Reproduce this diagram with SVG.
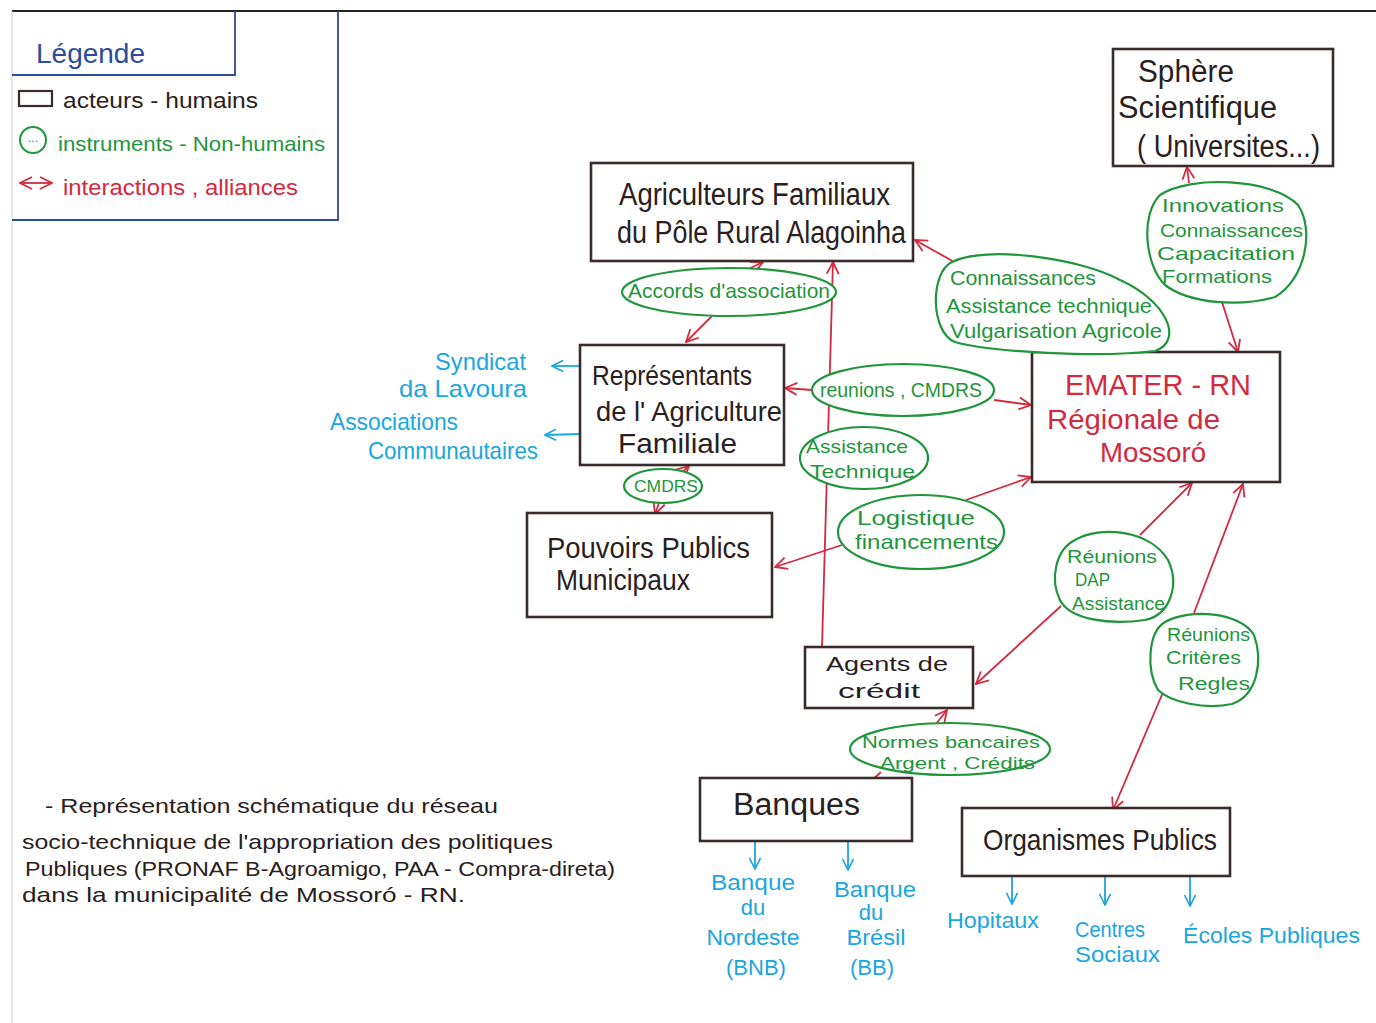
<svg xmlns="http://www.w3.org/2000/svg" width="1376" height="1023" viewBox="0 0 1376 1023">
<defs>
<style>
text{font-family:"Liberation Sans","DejaVu Sans",sans-serif}
.k{fill:#2a2020}
.g{fill:#1f953c}
.r{fill:#d22a3e}
.b{fill:#1aa6df}
.lb{fill:#2b4c9c}
.box{fill:#fff;stroke:#3b2b2a;stroke-width:2.6}
.ell{fill:#fff;stroke:#1f953c;stroke-width:2.2}
.rl{stroke:#d22a3e;stroke-width:1.8;fill:none}
.bl{stroke:#1aa6df;stroke-width:1.8;fill:none}
.leg{stroke:#2b4c9c;stroke-width:1.8;fill:none}
</style>
<marker id="ar" viewBox="0 0 14 14" refX="13" refY="7" markerWidth="14" markerHeight="14" markerUnits="userSpaceOnUse" orient="auto-start-reverse"><path d="M1,1 L13,7 L1,13" fill="none" stroke="#d22a3e" stroke-width="1.8"/></marker>
<marker id="ab" viewBox="0 0 14 14" refX="13" refY="7" markerWidth="13" markerHeight="13" markerUnits="userSpaceOnUse" orient="auto"><path d="M1,1 L13,7 L1,13" fill="none" stroke="#1aa6df" stroke-width="1.8"/></marker>
</defs>
<rect width="1376" height="1023" fill="#fff"/>
<line x1="12" y1="11" x2="1376" y2="11" stroke="#222" stroke-width="2"/>
<line x1="12" y1="11" x2="12" y2="1023" stroke="#ccc" stroke-width="1"/>

<g id="legend">
<path class="leg" d="M235,11 L235,75 L12,75"/>
<path class="leg" d="M338,11 L338,220 L12,220"/>
<text class="lb" x="36" y="63" font-size="28" textLength="109" lengthAdjust="spacingAndGlyphs">Légende</text>
<rect x="19" y="91" width="33" height="15" fill="none" stroke="#3b2b2a" stroke-width="2.2"/>
<text class="k" x="63" y="108" font-size="22" textLength="195" lengthAdjust="spacingAndGlyphs">acteurs - humains</text>
<circle cx="33" cy="140" r="13" fill="none" stroke="#1f953c" stroke-width="2"/>
<text class="g" x="33" y="142" font-size="12" text-anchor="middle">...</text>
<text class="g" x="58" y="151" font-size="21" textLength="267" lengthAdjust="spacingAndGlyphs">instruments - Non-humains</text>
<line x1="20" y1="183" x2="52" y2="183" class="rl" marker-start="url(#ar)" marker-end="url(#ar)"/>
<text class="r" x="63" y="195" font-size="22" textLength="235" lengthAdjust="spacingAndGlyphs">interactions , alliances</text>
</g>

<g id="connectors">
<path class="rl" d="M742,272 L763,262" marker-end="url(#ar)"/>
<path class="rl" d="M712,316 L686,342" marker-end="url(#ar)"/>
<path class="rl" d="M822,647 L833,262" marker-end="url(#ar)"/>
<path class="rl" d="M812,390 L785,388" marker-end="url(#ar)"/>
<path class="rl" d="M994,400 L1031,405" marker-end="url(#ar)"/>
<path class="rl" d="M956,263 L915,240" marker-end="url(#ar)"/>
<path class="rl" d="M1140,346 L1157,353"/>
<path class="rl" d="M1189,183 L1187,167" marker-end="url(#ar)"/>
<path class="rl" d="M1222,302 L1238,352" marker-end="url(#ar)"/>
<path class="rl" d="M966,500 L1031,477" marker-end="url(#ar)"/>
<path class="rl" d="M842,545 L775,567" marker-end="url(#ar)"/>
<path class="rl" d="M678,476 L689,466" marker-end="url(#ar)"/>
<path class="rl" d="M659,503 L655,514" marker-end="url(#ar)"/>
<path class="rl" d="M1140,535 L1192,483" marker-end="url(#ar)"/>
<path class="rl" d="M1061,606 L976,684" marker-end="url(#ar)"/>
<path class="rl" d="M1194,613 L1243,484" marker-end="url(#ar)"/>
<path class="rl" d="M1164,690 L1113,810" marker-end="url(#ar)"/>
<path class="rl" d="M936,724 L947,710" marker-end="url(#ar)"/>
<path class="rl" d="M881,772 L869,783"/>
<path class="bl" d="M580,366 L552,366" marker-end="url(#ab)"/>
<path class="bl" d="M580,434 L545,435" marker-end="url(#ab)"/>
<path class="bl" d="M755,842 L755,869" marker-end="url(#ab)"/>
<path class="bl" d="M848,842 L848,870" marker-end="url(#ab)"/>
<path class="bl" d="M1012,876 L1012,904" marker-end="url(#ab)"/>
<path class="bl" d="M1105,876 L1105,905" marker-end="url(#ab)"/>
<path class="bl" d="M1190,876 L1190,906" marker-end="url(#ab)"/>
</g>

<g id="agriculteurs">
<rect class="box" x="591" y="163" width="322" height="98"/>
<text class="k" x="619" y="205" font-size="31" textLength="271" lengthAdjust="spacingAndGlyphs">Agriculteurs Familiaux</text>
<text class="k" x="617" y="243" font-size="31" textLength="289" lengthAdjust="spacingAndGlyphs">du Pôle Rural Alagoinha</text>
</g>

<g id="sphere">
<rect class="box" x="1113" y="49" width="220" height="117"/>
<text class="k" x="1138" y="82" font-size="31" textLength="96" lengthAdjust="spacingAndGlyphs">Sphère</text>
<text class="k" x="1118" y="118" font-size="31" textLength="159" lengthAdjust="spacingAndGlyphs">Scientifique</text>
<text class="k" x="1137" y="157" font-size="31" textLength="183" lengthAdjust="spacingAndGlyphs">( Universites...)</text>
</g>

<g id="representants">
<rect class="box" x="580" y="345" width="204" height="120"/>
<text class="k" x="592" y="385" font-size="28" textLength="160" lengthAdjust="spacingAndGlyphs">Représentants</text>
<text class="k" x="596" y="421" font-size="28" textLength="186" lengthAdjust="spacingAndGlyphs">de l' Agriculture</text>
<text class="k" x="618" y="453" font-size="28" textLength="119" lengthAdjust="spacingAndGlyphs">Familiale</text>
</g>

<g id="emater">
<rect class="box" x="1032" y="352" width="248" height="130"/>
<text class="r" x="1065" y="395" font-size="30" textLength="186" lengthAdjust="spacingAndGlyphs">EMATER - RN</text>
<text class="r" x="1047" y="429" font-size="27" textLength="173" lengthAdjust="spacingAndGlyphs">Régionale de</text>
<text class="r" x="1100" y="462" font-size="27" textLength="106" lengthAdjust="spacingAndGlyphs">Mossoró</text>
</g>

<g id="pouvoirs">
<rect class="box" x="527" y="513" width="245" height="104"/>
<text class="k" x="547" y="558" font-size="29" textLength="203" lengthAdjust="spacingAndGlyphs">Pouvoirs Publics</text>
<text class="k" x="556" y="590" font-size="29" textLength="134" lengthAdjust="spacingAndGlyphs">Municipaux</text>
</g>

<g id="agents">
<rect class="box" x="805" y="647" width="168" height="61"/>
<text class="k" x="826" y="671" font-size="21" textLength="122" lengthAdjust="spacingAndGlyphs">Agents de</text>
<text class="k" x="838" y="698" font-size="21" textLength="82" lengthAdjust="spacingAndGlyphs">crédit</text>
</g>

<g id="banques">
<rect class="box" x="700" y="778" width="212" height="63"/>
<text class="k" x="733" y="815" font-size="31" textLength="127" lengthAdjust="spacingAndGlyphs">Banques</text>
</g>

<g id="organismes">
<rect class="box" x="962" y="808" width="268" height="68"/>
<text class="k" x="983" y="850" font-size="29" textLength="234" lengthAdjust="spacingAndGlyphs">Organismes Publics</text>
</g>

<g id="accords">
<ellipse class="ell" cx="729" cy="292" rx="107" ry="24"/>
<text class="g" x="628" y="298" font-size="21" textLength="202" lengthAdjust="spacingAndGlyphs">Accords d'association</text>
</g>

<g id="connaissances">
<path class="ell" d="M952,262 C985,245 1080,258 1120,280 C1165,300 1185,340 1155,351 C1100,358 990,352 955,342 C930,332 930,272 952,262 Z"/>
<text class="g" x="950" y="285" font-size="20" textLength="146" lengthAdjust="spacingAndGlyphs">Connaissances</text>
<text class="g" x="946" y="313" font-size="20" textLength="206" lengthAdjust="spacingAndGlyphs">Assistance technique</text>
<text class="g" x="950" y="338" font-size="20" textLength="212" lengthAdjust="spacingAndGlyphs">Vulgarisation Agricole</text>
</g>

<g id="innovations">
<path class="ell" d="M1160,195 C1190,175 1272,178 1298,205 C1315,230 1305,280 1275,297 C1240,307 1190,304 1165,285 C1145,265 1140,215 1160,195 Z"/>
<text class="g" x="1162" y="212" font-size="19" textLength="122" lengthAdjust="spacingAndGlyphs">Innovations</text>
<text class="g" x="1160" y="237" font-size="19" textLength="143" lengthAdjust="spacingAndGlyphs">Connaissances</text>
<text class="g" x="1157" y="260" font-size="19" textLength="138" lengthAdjust="spacingAndGlyphs">Capacitation</text>
<text class="g" x="1162" y="283" font-size="19" textLength="110" lengthAdjust="spacingAndGlyphs">Formations</text>
</g>

<g id="reunions-cmdrs">
<ellipse class="ell" cx="903" cy="390" rx="91" ry="26"/>
<text class="g" x="820" y="397" font-size="20" textLength="162" lengthAdjust="spacingAndGlyphs">reunions , CMDRS</text>
</g>

<g id="assistance-technique">
<ellipse class="ell" cx="864" cy="458" rx="64" ry="31"/>
<text class="g" x="806" y="453" font-size="19" textLength="102" lengthAdjust="spacingAndGlyphs">Assistance</text>
<text class="g" x="810" y="478" font-size="19" textLength="105" lengthAdjust="spacingAndGlyphs">Technique</text>
</g>

<g id="logistique">
<ellipse class="ell" cx="921" cy="532" rx="83" ry="37"/>
<text class="g" x="857" y="525" font-size="21" textLength="118" lengthAdjust="spacingAndGlyphs">Logistique</text>
<text class="g" x="855" y="549" font-size="21" textLength="143" lengthAdjust="spacingAndGlyphs">financements</text>
</g>

<g id="cmdrs">
<ellipse class="ell" cx="663" cy="486" rx="39" ry="17"/>
<text class="g" x="634" y="492" font-size="16" textLength="64" lengthAdjust="spacingAndGlyphs">CMDRS</text>
</g>

<g id="reunions-dap">
<path class="ell" d="M1075,540 C1100,525 1150,530 1168,560 C1180,585 1170,615 1145,620 C1110,625 1070,620 1060,600 C1050,580 1055,550 1075,540 Z"/>
<text class="g" x="1067" y="563" font-size="18" textLength="90" lengthAdjust="spacingAndGlyphs">Réunions</text>
<text class="g" x="1075" y="586" font-size="18" textLength="35" lengthAdjust="spacingAndGlyphs">DAP</text>
<text class="g" x="1072" y="610" font-size="18" textLength="93" lengthAdjust="spacingAndGlyphs">Assistance</text>
</g>

<g id="reunions-criteres">
<path class="ell" d="M1165,622 C1190,608 1240,612 1254,635 C1263,660 1258,695 1232,704 C1205,710 1170,702 1158,690 C1146,670 1148,632 1165,622 Z"/>
<text class="g" x="1167" y="641" font-size="18" textLength="83" lengthAdjust="spacingAndGlyphs">Réunions</text>
<text class="g" x="1166" y="664" font-size="18" textLength="75" lengthAdjust="spacingAndGlyphs">Critères</text>
<text class="g" x="1178" y="690" font-size="18" textLength="72" lengthAdjust="spacingAndGlyphs">Regles</text>
</g>

<g id="normes">
<ellipse class="ell" cx="950" cy="749" rx="100" ry="26"/>
<text class="g" x="862" y="748" font-size="17" textLength="178" lengthAdjust="spacingAndGlyphs">Normes bancaires</text>
<text class="g" x="880" y="769" font-size="17" textLength="155" lengthAdjust="spacingAndGlyphs">Argent , Crédits</text>
</g>

<g id="syndicat">
<text class="b" x="435" y="370" font-size="24" textLength="91" lengthAdjust="spacingAndGlyphs">Syndicat</text>
<text class="b" x="399" y="397" font-size="24" textLength="128" lengthAdjust="spacingAndGlyphs">da Lavoura</text>
</g>
<g id="associations">
<text class="b" x="330" y="430" font-size="24" textLength="128" lengthAdjust="spacingAndGlyphs">Associations</text>
<text class="b" x="368" y="459" font-size="24" textLength="170" lengthAdjust="spacingAndGlyphs">Communautaires</text>
</g>
<g id="bnb">
<text class="b" x="753" y="890" font-size="22" text-anchor="middle" textLength="84" lengthAdjust="spacingAndGlyphs">Banque</text>
<text class="b" x="753" y="915" font-size="22" text-anchor="middle">du</text>
<text class="b" x="753" y="945" font-size="22" text-anchor="middle" textLength="93" lengthAdjust="spacingAndGlyphs">Nordeste</text>
<text class="b" x="756" y="975" font-size="22" text-anchor="middle">(BNB)</text>
</g>
<g id="bb">
<text class="b" x="875" y="897" font-size="22" text-anchor="middle" textLength="82" lengthAdjust="spacingAndGlyphs">Banque</text>
<text class="b" x="871" y="920" font-size="22" text-anchor="middle">du</text>
<text class="b" x="876" y="945" font-size="22" text-anchor="middle" textLength="59" lengthAdjust="spacingAndGlyphs">Brésil</text>
<text class="b" x="872" y="975" font-size="22" text-anchor="middle">(BB)</text>
</g>
<g id="hopitaux">
<text class="b" x="947" y="928" font-size="22" textLength="92" lengthAdjust="spacingAndGlyphs">Hopitaux</text>
</g>
<g id="centres">
<text class="b" x="1075" y="937" font-size="22" textLength="70" lengthAdjust="spacingAndGlyphs">Centres</text>
<text class="b" x="1075" y="962" font-size="22" textLength="85" lengthAdjust="spacingAndGlyphs">Sociaux</text>
</g>
<g id="ecoles">
<text class="b" x="1183" y="943" font-size="22" textLength="177" lengthAdjust="spacingAndGlyphs">Écoles Publiques</text>
</g>

<g id="caption">
<text class="k" x="45" y="813" font-size="21" textLength="453" lengthAdjust="spacingAndGlyphs">- Représentation schématique du réseau</text>
<text class="k" x="22" y="849" font-size="21" textLength="531" lengthAdjust="spacingAndGlyphs">socio-technique de l'appropriation des politiques</text>
<text class="k" x="25" y="876" font-size="21" textLength="590" lengthAdjust="spacingAndGlyphs">Publiques (PRONAF B-Agroamigo, PAA - Compra-direta)</text>
<text class="k" x="22" y="902" font-size="21" textLength="443" lengthAdjust="spacingAndGlyphs">dans la municipalité de Mossoró - RN.</text>
</g>
</svg>
